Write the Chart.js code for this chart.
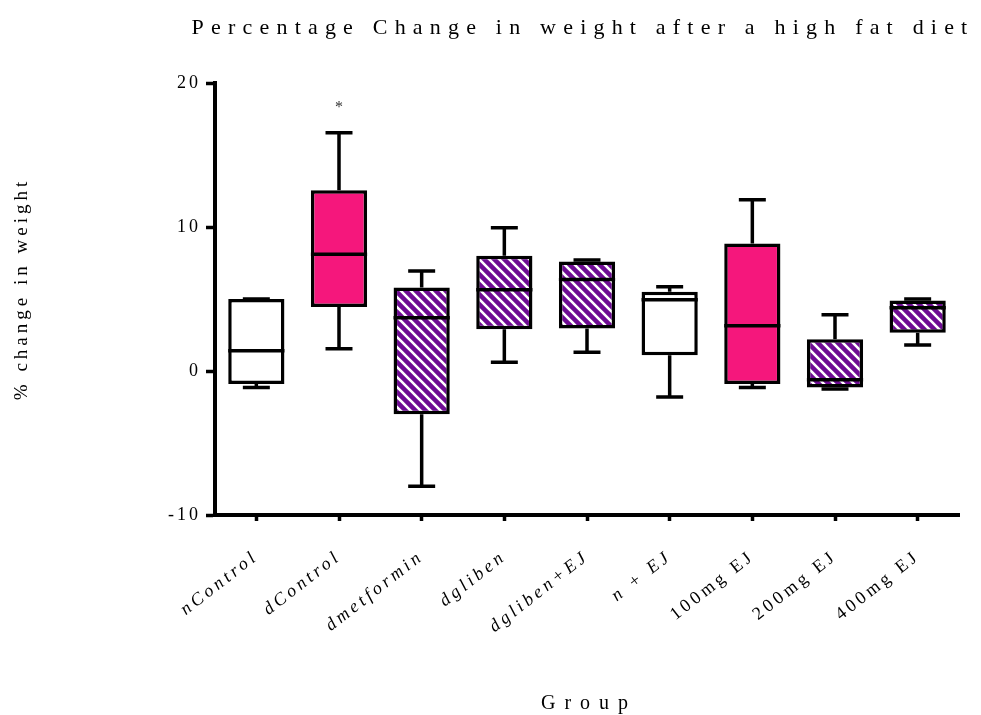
<!DOCTYPE html>
<html>
<head>
<meta charset="utf-8">
<title>Percentage Change in weight after a high fat diet</title>
<style>
  html, body { margin: 0; padding: 0; background: #ffffff; }
  #wrap { width: 981px; height: 715px; }
</style>
<script src="https://cdn.jsdelivr.net/npm/chart.js@4/dist/chart.umd.min.js"></script>
</head>
<body>
<div id="wrap"><canvas id="chart"></canvas></div>
<script>
// Five-number summaries of % weight change for each treatment group
const groups = ['nControl', 'dControl', 'dmetformin', 'dgliben', 'dgliben+EJ', 'n + EJ', '100mg EJ', '200mg EJ', '400mg EJ'];
const minValues    = [-1.15,  1.55, -8.0,  0.6,  1.3, -1.8, -1.15, -1.25, 1.8];
const q1Values     = [-0.9,   4.45, -3.0,  2.9,  2.95, 1.1, -0.9,  -1.15, 2.65];
const medianValues = [ 1.4,   8.1,   3.7,  5.65, 6.35, 4.95, 3.15, -0.6,  4.4];
const q3Values     = [ 5.0,  12.55,  5.8,  8.0,  7.6,  5.5,  8.85,  2.2,  4.9];
const maxValues    = [ 5.0,  16.55,  6.95, 9.95, 7.7,  5.85, 11.9,  3.9,  5.0];
const significance = ['', '*', '', '', '', '', '', '', ''];
const yTicks = [-10, 0, 10, 20];

// Box fill per group: open, solid pink, or purple hatching
const fillKinds = ['open', 'solid', 'hatched', 'hatched', 'hatched', 'open', 'solid', 'hatched', 'hatched'];
const PINK = '#F5177C';
const PURPLE = '#6E0C93';
const INK = '#000000';
const SERIF = "'Liberation Serif', 'Times New Roman', serif";

function makeHatch() {
  const size = 10;
  const c = document.createElement('canvas');
  c.width = size; c.height = size;
  const g = c.getContext('2d');
  g.fillStyle = PURPLE;
  g.fillRect(0, 0, size, size);
  g.strokeStyle = '#ffffff';
  g.lineWidth = 2.6;
  g.beginPath();
  g.moveTo(-2, -2); g.lineTo(size + 2, size + 2);
  g.moveTo(-2, size - 2); g.lineTo(2, size + 2);
  g.moveTo(size - 2, -2); g.lineTo(size + 2, 2);
  g.stroke();
  return g.createPattern(c, 'repeat');
}
const hatch = makeHatch();
const boxFills = fillKinds.map(k => k === 'solid' ? PINK : (k === 'hatched' ? hatch : '#ffffff'));

// Wraps a drawing method so its text is letter-spaced (and optionally shifted)
function spaced(target, method, spacing, dx = 0, dy = 0) {
  const original = target[method];
  target[method] = function (...args) {
    const ctx = this.ctx;
    ctx.save();
    ctx.letterSpacing = spacing + 'px';
    ctx.translate(dx, dy);
    try { return original.apply(this, args); }
    finally { ctx.restore(); }
  };
}

const spacingPlugin = {
  id: 'letterSpacing',
  afterLayout(chart) {
    const tb = chart.titleBlock;
    if (tb) { tb.left = 156; tb.right = 1010; }
    if (chart._spacedOnce) return;
    chart._spacedOnce = true;
    if (tb) spaced(tb, 'draw', 7.2);
    spaced(chart.scales.y, 'drawLabels', 3, 1, 0);
    spaced(chart.scales.y, 'drawTitle', 4, 0, -10);
    spaced(chart.scales.x, 'drawLabels', 3.6, 0, 0);
    spaced(chart.scales.x, 'drawTitle', 9, 2, 1);
  }
};

// Whiskers, medians and significance marks drawn on top of the IQR boxes
const boxplotPlugin = {
  id: 'boxWhiskers',
  afterDatasetsDraw(chart) {
    const ctx = chart.ctx;
    const y = chart.scales.y;
    const meta = chart.getDatasetMeta(0);
    ctx.save();
    ctx.strokeStyle = INK;
    ctx.lineWidth = 3.5;
    ctx.lineCap = 'butt';
    meta.data.forEach((bar, i) => {
      const x = bar.x;
      const half = bar.width / 2;
      const cap = bar.width * 0.24;
      const pMin = y.getPixelForValue(minValues[i]);
      const pMax = y.getPixelForValue(maxValues[i]);
      const pQ1 = y.getPixelForValue(q1Values[i]);
      const pQ3 = y.getPixelForValue(q3Values[i]);
      const pMed = y.getPixelForValue(medianValues[i]);
      ctx.beginPath();
      // upper whisker
      ctx.moveTo(x, pQ3); ctx.lineTo(x, pMax);
      ctx.moveTo(x - cap, pMax); ctx.lineTo(x + cap, pMax);
      // lower whisker
      ctx.moveTo(x, pQ1); ctx.lineTo(x, pMin);
      ctx.moveTo(x - cap, pMin); ctx.lineTo(x + cap, pMin);
      // median
      ctx.moveTo(x - half, pMed); ctx.lineTo(x + half, pMed);
      ctx.stroke();
      if (significance[i]) {
        ctx.fillStyle = '#333333';
        ctx.font = '16px ' + SERIF;
        ctx.textAlign = 'center';
        ctx.textBaseline = 'middle';
        ctx.fillText(significance[i], x, pMax - 25);
      }
    });
    ctx.restore();
  }
};

Chart.defaults.font.family = SERIF;
Chart.defaults.color = INK;

new Chart(document.getElementById('chart'), {
  type: 'bar',
  data: {
    labels: groups,
    datasets: [{
      label: '% change in weight',
      data: groups.map((_, i) => [q1Values[i], q3Values[i]]),
      backgroundColor: boxFills,
      borderColor: INK,
      borderWidth: 3.5,
      borderSkipped: false,
      barPercentage: 0.68,
      categoryPercentage: 1.0
    }]
  },
  options: {
    responsive: true,
    maintainAspectRatio: false,
    animation: false,
    layout: { padding: { left: 0, right: 22, top: 0, bottom: 0 } },
    plugins: {
      legend: { display: false },
      tooltip: { enabled: false },
      title: {
        display: true,
        text: 'Percentage Change in weight after a high fat diet',
        color: INK,
        font: { family: SERIF, size: 22, weight: 'normal' },
        padding: { top: 15, bottom: 41.6 }
      }
    },
    scales: {
      x: {
        offset: true,
        grid: { display: true, drawOnChartArea: false, offset: false, tickLength: 6, tickWidth: 3.5, tickColor: INK },
        border: { display: true, color: INK, width: 4 },
        ticks: {
          color: INK,
          padding: 25,
          minRotation: 38,
          maxRotation: 38,
          autoSkip: false,
          font: (c) => ({ family: SERIF, size: 18, style: c.index < 6 ? 'italic' : 'normal' })
        },
        title: {
          display: true,
          text: 'Group',
          color: INK,
          font: { family: SERIF, size: 20 },
          padding: { top: 0, bottom: 0 }
        },
        afterFit(scale) { scale.height = 200; }
      },
      y: {
        min: -10,
        max: 20,
        afterBuildTicks(scale) { scale.ticks = yTicks.map(v => ({ value: v })); },
        grid: { display: true, drawOnChartArea: false, tickLength: 9, tickWidth: 3.5, tickColor: INK },
        border: { display: true, color: INK, width: 4 },
        ticks: { color: INK, padding: 6, font: { family: SERIF, size: 18 } },
        title: {
          display: true,
          text: '% change in weight',
          color: INK,
          font: { family: SERIF, size: 19 },
          padding: { top: 11, bottom: 0 }
        },
        afterFit(scale) { scale.width = 215; }
      }
    }
  },
  plugins: [spacingPlugin, boxplotPlugin]
});
</script>
</body>
</html>
